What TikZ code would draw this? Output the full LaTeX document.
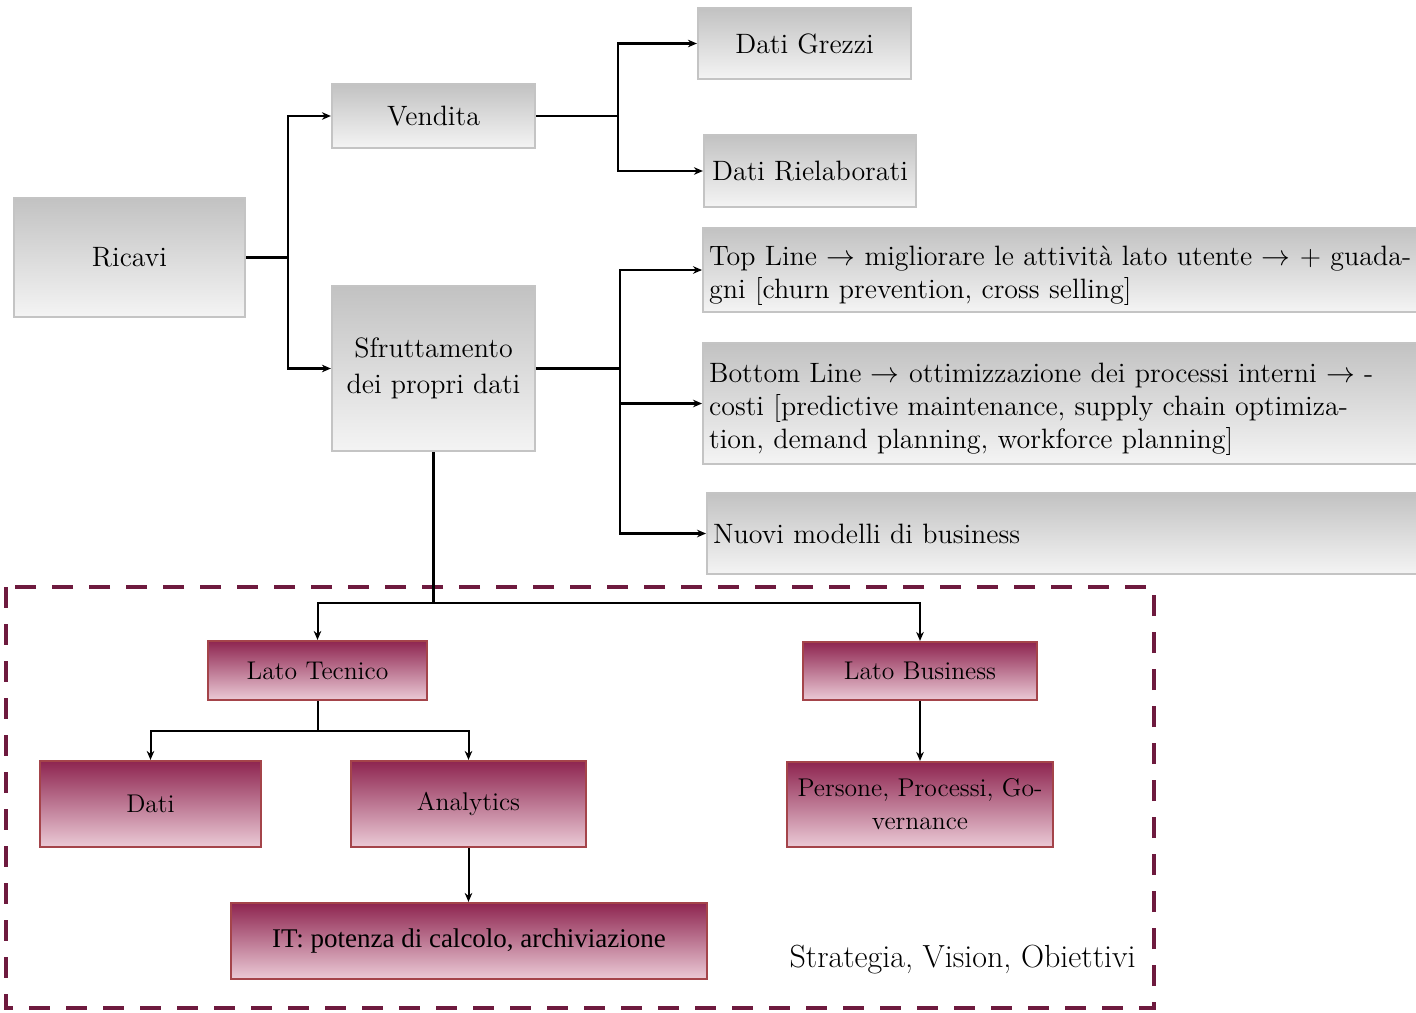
\documentclass[tikz,border=0pt]{standalone}
\usepackage{fontspec}
\newfontfamily\timesfont{Liberation Serif}
\usetikzlibrary{arrows.meta}
\definecolor{graytop}{HTML}{C2C2C2}
\definecolor{graybot}{HTML}{F4F4F4}
\definecolor{grayborder}{HTML}{C4C4C4}
\definecolor{martop}{HTML}{8E2550}
\definecolor{marbot}{HTML}{EBCAD6}
\definecolor{marborder}{HTML}{A4444A}
\definecolor{dashcol}{HTML}{6E1A3E}
\newcommand{\topstrut}{\rule{0pt}{15pt}}
\tikzset{
  graybox/.style={draw=grayborder, line width=1.1pt, top color=graytop, bottom color=graybot,
    inner sep=0pt, align=center, font=\fontsize{14}{18}\selectfont},
  widebox/.style={graybox, anchor=west, align=left, inner xsep=3pt, text width=400pt,
    font=\fontsize{14}{16.5}\selectfont},
  marbox/.style={draw=marborder, line width=1.1pt, top color=martop, bottom color=marbot,
    inner sep=0pt, align=center, font=\fontsize{12.8}{16.5}\selectfont},
  conn/.style={line width=1.1pt, black},
  arr/.style={conn, -{Stealth[length=4.5pt,width=3.8pt]}},
  marr/.style={line width=1pt, black, -{Stealth[length=4.5pt,width=3.8pt]}},
}
\begin{document}
\begin{tikzpicture}[x=0.5pt, y=-0.5pt]
\useasboundingbox (0,0) rectangle (1416,1012);
% dashed frame
\draw[dashcol, line width=2.2pt, dash pattern=on 10.5pt off 8pt] (6,587) rectangle (1154,1008);

% gray boxes
\node[graybox, minimum width=115.5pt, minimum height=59.5pt] (ricavi) at (129.5,257.5) {Ricavi};
\node[graybox, minimum width=101.5pt, minimum height=32pt] (vendita) at (433.5,116) {Vendita};
\node[graybox, minimum width=101.5pt, minimum height=82.5pt] (sfrutt) at (433.5,368.5) {Sfruttamento\\dei propri dati};
\node[graybox, minimum width=106.5pt, minimum height=35.5pt] (grezzi) at (804.5,43.5) {Dati Grezzi};
\node[graybox, minimum width=106pt, minimum height=36pt] (riel) at (810,171) {Dati Rielaborati};
\node[widebox, minimum height=42pt] (top) at (702,270)
  {\topstrut Top Line $\rightarrow$\ migliorare le attività lato utente $\rightarrow$ + guada-\\gni [churn prevention, cross selling]};
\node[widebox, minimum height=60.5pt] (bottom) at (702,403.5)
  {\topstrut Bottom Line $\rightarrow$ ottimizzazione dei processi interni $\rightarrow$ -\\costi [predictive maintenance, supply chain optimiza-\\tion, demand planning, workforce planning]};
\node[widebox, minimum height=40.5pt] (nuovi) at (706,533.5)
  {Nuovi modelli di business};

% maroon boxes
\node[marbox, minimum width=109.5pt, minimum height=29.5pt] (tecnico) at (317.5,670.5) {Lato Tecnico};
\node[marbox, minimum width=117pt, minimum height=29pt] (business) at (920,671) {Lato Business};
\node[marbox, minimum width=110.5pt, minimum height=43pt] (dati) at (150.5,804) {Dati};
\node[marbox, minimum width=117.5pt, minimum height=43pt] (analytics) at (468.5,804) {Analytics};
\node[marbox, minimum width=133pt, minimum height=42.5pt] (persone) at (920,804.5) {Persone, Processi, Go-\\vernance};
\node[marbox, minimum width=238pt, minimum height=38pt, font=\timesfont\fontsize{13.5}{15}\selectfont] (it) at (469,941) {IT: potenza di calcolo, archiviazione};

\node[anchor=east, inner sep=0pt, font=\fontsize{16}{19}\selectfont] (strat) at (1136,960) {Strategia, Vision, Obiettivi};

% junctions
\coordinate (j1) at (288,257.5);
\coordinate (j2) at (618,116);
\coordinate (j3) at (620,368.5);
\coordinate (j4) at (433.5,603);
\coordinate (j5) at (317.5,731);

% connectors
\draw[conn] (ricavi.east) -- (j1);
\draw[arr] (j1) |- (vendita.west);
\draw[arr] (j1) |- (sfrutt.west);
\draw[conn] (vendita.east) -- (j2);
\draw[arr] (j2) |- (grezzi.west);
\draw[arr] (j2) |- (riel.west);
\draw[conn] (sfrutt.east) -- (j3);
\draw[arr] (j3) |- (top.west);
\draw[arr] (j3) |- (bottom.west);
\draw[arr] (j3) |- (nuovi.west);
\draw[conn] (sfrutt.south) -- (j4);
\draw[marr] (j4) -| (tecnico.north);
\draw[marr] (j4) -| (business.north);
\draw[conn, line width=1pt] (tecnico.south) -- (j5);
\draw[marr] (j5) -| (dati.north);
\draw[marr] (j5) -| (analytics.north);
\draw[marr] (analytics.south) -- (it.north -| analytics.south);
\draw[marr] (business.south) -- (persone.north);
\end{tikzpicture}
\end{document}
